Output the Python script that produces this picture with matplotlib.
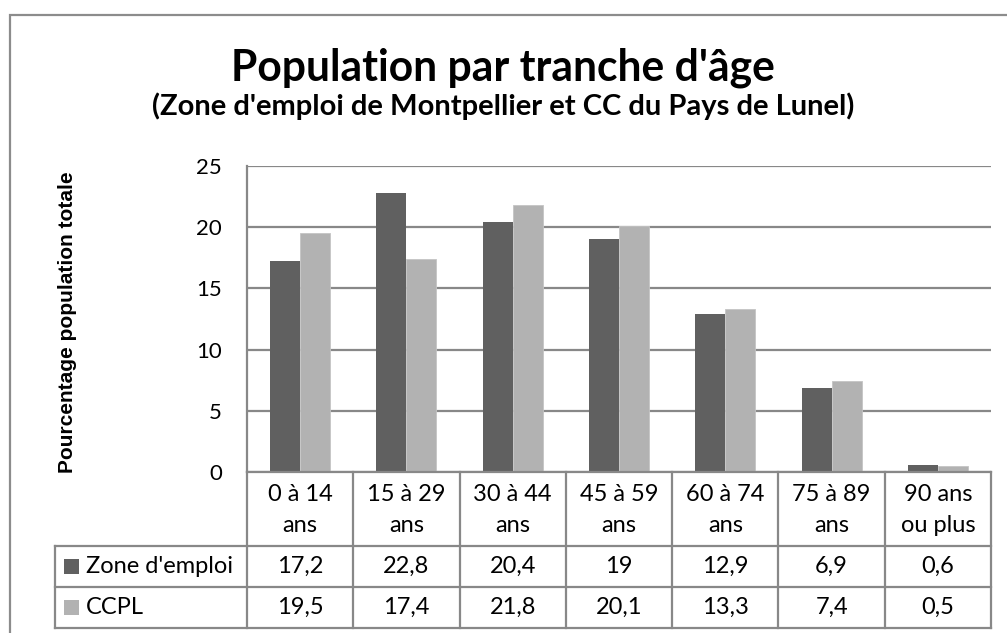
import numpy as np
import matplotlib
matplotlib.use("Agg")
import matplotlib.pyplot as plt
from matplotlib.patches import Rectangle
from matplotlib.lines import Line2D

plt.rcParams['font.family'] = ['Lato', 'DejaVu Sans']

categories = ["0 à 14\nans", "15 à 29\nans", "30 à 44\nans", "45 à 59\nans",
              "60 à 74\nans", "75 à 89\nans", "90 ans\nou plus"]
series_names = ["Zone d'emploi", "CCPL"]
zone_emploi = [17.2, 22.8, 20.4, 19, 12.9, 6.9, 0.6]
ccpl = [19.5, 17.4, 21.8, 20.1, 13.3, 7.4, 0.5]
y_ticks = [0, 5, 10, 15, 20, 25]

DARK = "#606060"
LIGHT = "#b2b2b2"
GRID = "#888888"

W, H = 1007, 633
fig = plt.figure(figsize=(W / 100, H / 100), dpi=100)


def fx(px):
    return px / W


def fy(py):
    return 1 - py / H


# outer chart frame
fig.patches.append(Rectangle((fx(10), fy(640)), fx(1010) - fx(10), fy(15) - fy(640),
                             transform=fig.transFigure, fill=False,
                             edgecolor="#8c8c8c", linewidth=1.6))

# plot area
L, R, T, B = 247, 991, 166, 472
ax = fig.add_axes([fx(L), fy(B), fx(R) - fx(L), fy(T) - fy(B)])
n = len(categories)
x = np.arange(n)
bw = 0.282
ax.bar(x - bw / 2, zone_emploi, width=bw, color=DARK, zorder=3)
ax.bar(x + bw / 2, ccpl, width=bw, color=LIGHT, edgecolor="#c4c4c4", linewidth=0.6, zorder=3)
ax.set_xlim(-0.5, n - 0.5)
ax.set_ylim(0, 25)
ax.set_yticks(y_ticks)
ax.set_yticklabels([str(v) for v in y_ticks], fontsize=16)
ax.tick_params(axis="y", length=0, pad=18)
ax.set_xticks([])
ax.yaxis.grid(True, color=GRID, linewidth=1.6, zorder=0)
for side in ["top", "right", "bottom"]:
    ax.spines[side].set_visible(False)
ax.spines["left"].set_color(GRID)
ax.spines["left"].set_linewidth(1.6)

# titles
fig.text(fx(503), fy(80), "Population par tranche d'âge", ha="center", va="baseline",
         fontsize=30.7, fontweight="bold")
fig.text(fx(503), fy(115), "(Zone d'emploi de Montpellier et CC du Pays de Lunel)",
         ha="center", va="baseline", fontsize=21, fontweight="bold")

# y axis title
fig.text(fx(68), fy(322), "Pourcentage population totale", rotation=90,
         ha="center", va="center", fontsize=15, fontweight="bold",
         family=["Liberation Sans", "DejaVu Sans"])

# data table
TL = 55
row_top, row1, row2, row3 = 472, 546, 587, 628
col_w = (R - L) / n
lw = 1.6


def hline(y, x0, x1):
    fig.lines.append(Line2D([fx(x0), fx(x1)], [fy(y), fy(y)], transform=fig.transFigure,
                            color=GRID, linewidth=lw))


def vline(xp, y0, y1):
    fig.lines.append(Line2D([fx(xp), fx(xp)], [fy(y0), fy(y1)], transform=fig.transFigure,
                            color=GRID, linewidth=lw))


hline(row_top, L, R)
hline(row1, TL, R)
hline(row2, TL, R)
hline(row3, TL, R)
vline(TL, row1, row3)
vline(L, row_top, row3)
for i in range(1, n + 1):
    vline(L + i * col_w, row_top, row3)

TS = 17
for i, lab in enumerate(categories):
    cx = L + (i + 0.5) * col_w
    fig.text(fx(cx), fy((row_top + row1) / 2 + 1), lab, ha="center", va="center",
             fontsize=TS, linespacing=1.62)
    fig.text(fx(cx), fy((row1 + row2) / 2), f"{zone_emploi[i]:g}".replace(".", ","),
             ha="center", va="center", fontsize=TS)
    fig.text(fx(cx), fy((row2 + row3) / 2), f"{ccpl[i]:g}".replace(".", ","),
             ha="center", va="center", fontsize=TS)

# legend keys inside the table
for (yt, yb), name, col in zip([(row1, row2), (row2, row3)], series_names, [DARK, LIGHT]):
    cy = (yt + yb) / 2
    fig.patches.append(Rectangle((fx(64), fy(cy + 7.5)), fx(15), 15 / H,
                                 transform=fig.transFigure, facecolor=col, edgecolor="none"))
    fig.text(fx(86), fy(cy), name, ha="left", va="center", fontsize=TS)

fig.savefig("out.png", dpi=100, facecolor="white")
